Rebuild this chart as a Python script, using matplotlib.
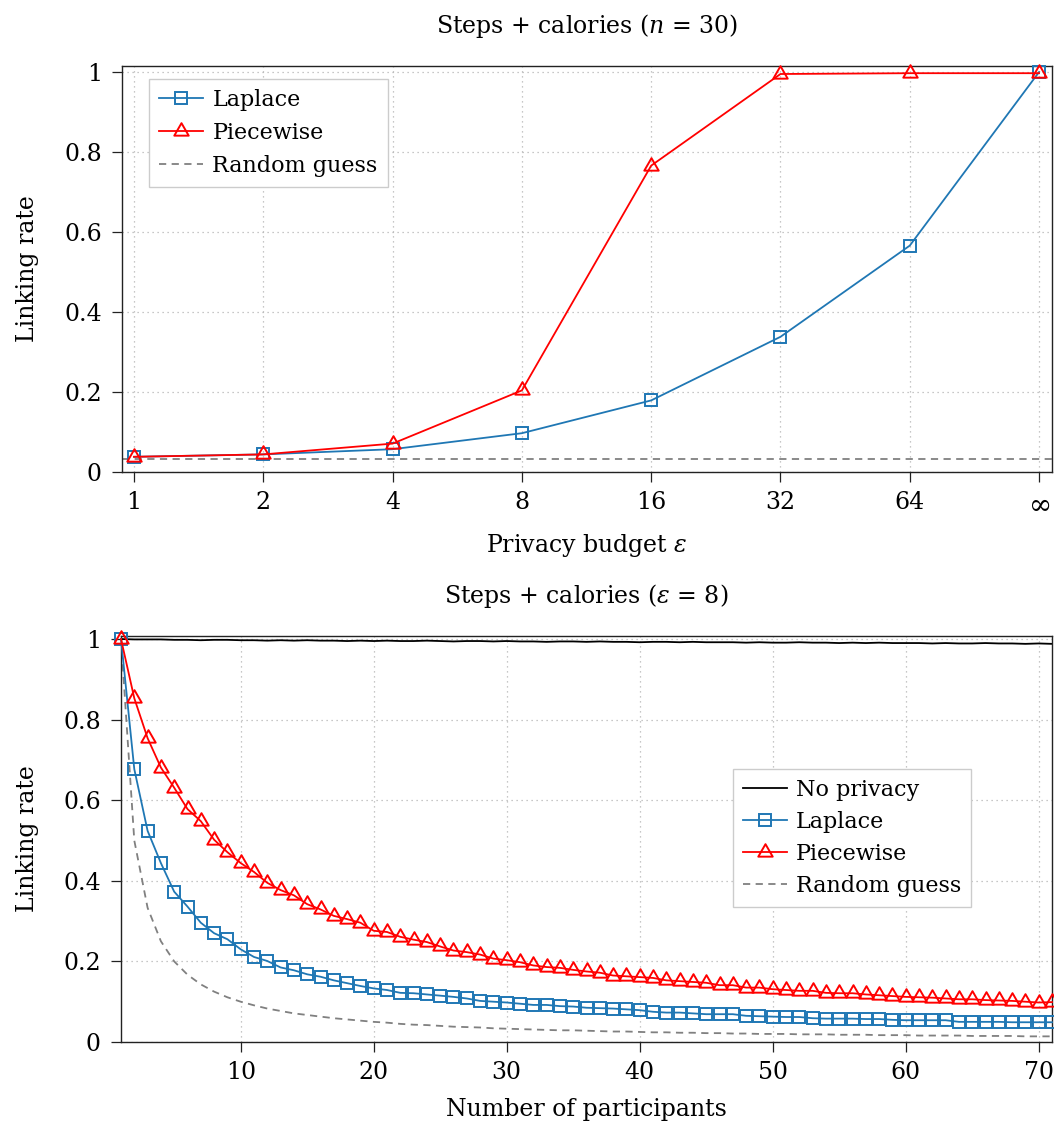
import matplotlib
matplotlib.use('Agg')
import matplotlib.pyplot as plt
from matplotlib.path import Path

plt.rcParams['font.family'] = ['DejaVu Serif']
plt.rcParams['mathtext.fontset'] = 'dejavuserif'

# ---------------- data ----------------
eps_labels = ['1', '2', '4', '8', '16', '32', '64', r'$\infty$']
laplace_eps = [0.038, 0.044, 0.057, 0.097, 0.179, 0.338, 0.566, 1.0]
piecewise_eps = [0.038, 0.044, 0.071, 0.204, 0.766, 0.995, 0.997, 0.997]
random_guess_n30 = 0.0333

participants = list(range(1, 72))
no_privacy_n = [1.0, .999, .999, .999, .998, .998, .997, .998, .998, .997,
                .997, .996, .997, .996, .997, .996, .996, .995, .996, .995,
                .996, .995, .995, .996, .995, .994, .995, .995, .994, .995,
                .994, .994, .993, .994, .994, .993, .994, .993, .993, .992,
                .993, .993, .992, .993, .992, .992, .992, .991, .992, .991,
                .991, .992, .991, .991, .990, .991, .990, .991, .990, .990,
                .990, .989, .990, .989, .989, .990, .989, .989, .988, .989, .988]
laplace_n = [1.0, 0.677, 0.524, 0.444, 0.373, 0.336, 0.296, 0.270, 0.255, 0.230,
             0.211, 0.201, 0.185, 0.178, 0.168, 0.162, 0.153, 0.146, 0.139, 0.133,
             0.129, 0.122, 0.121, 0.118, 0.115, 0.112, 0.108, 0.102, 0.100, 0.098,
             0.095, 0.092, 0.092, 0.089, 0.088, 0.085, 0.084, 0.083, 0.081, 0.079,
             0.075, 0.073, 0.073, 0.071, 0.069, 0.069, 0.069, 0.065, 0.064, 0.063,
             0.062, 0.062, 0.059, 0.058, 0.058, 0.058, 0.057, 0.057, 0.055, 0.054,
             0.054, 0.054, 0.054, 0.050, 0.050, 0.050, 0.050, 0.049, 0.049, 0.049, 0.049]
piecewise_n = [1.0, 0.853, 0.754, 0.681, 0.631, 0.578, 0.548, 0.502, 0.471, 0.444,
               0.422, 0.395, 0.377, 0.364, 0.342, 0.329, 0.313, 0.305, 0.296, 0.276,
               0.273, 0.261, 0.254, 0.248, 0.237, 0.227, 0.223, 0.217, 0.207, 0.203,
               0.198, 0.190, 0.186, 0.184, 0.179, 0.175, 0.172, 0.165, 0.163, 0.161,
               0.159, 0.153, 0.151, 0.149, 0.147, 0.141, 0.141, 0.135, 0.135, 0.131,
               0.129, 0.127, 0.127, 0.122, 0.121, 0.121, 0.118, 0.116, 0.114, 0.112,
               0.111, 0.110, 0.108, 0.106, 0.106, 0.104, 0.103, 0.102, 0.100, 0.098, 0.099]
random_guess_n = [1.0, 0.5, 0.333, 0.25, 0.2, 0.167, 0.143, 0.125, 0.111, 0.1,
                  0.091, 0.083, 0.077, 0.071, 0.067, 0.063, 0.059, 0.056, 0.053, 0.05,
                  0.048, 0.045, 0.043, 0.042, 0.04, 0.038, 0.037, 0.036, 0.034, 0.033,
                  0.032, 0.031, 0.030, 0.029, 0.029, 0.028, 0.027, 0.026, 0.026, 0.025,
                  0.024, 0.024, 0.023, 0.023, 0.022, 0.022, 0.021, 0.021, 0.020, 0.020,
                  0.020, 0.019, 0.019, 0.019, 0.018, 0.018, 0.018, 0.017, 0.017, 0.017,
                  0.016, 0.016, 0.016, 0.016, 0.015, 0.015, 0.015, 0.015, 0.014, 0.014, 0.014]
y_ticks = [0, 0.2, 0.4, 0.6, 0.8, 1.0]
y_ticklabels = ['0', '0.2', '0.4', '0.6', '0.8', '1']
n_ticks = [10, 20, 30, 40, 50, 60, 70]

# ---------------- style ----------------
BLUE = '#1f77b4'
RED = '#ff0000'
GRAY = '#808080'
FS = 17
LFS = 16
tri = Path([(0, 1), (-0.866, -0.5), (0.866, -0.5), (0, 1)],
           [Path.MOVETO, Path.LINETO, Path.LINETO, Path.CLOSEPOLY])

fig = plt.figure(figsize=(10.54, 11.28), dpi=100)
ax1 = fig.add_axes([122 / 1054, 1 - 472 / 1128, 930 / 1054, 406 / 1128])
ax2 = fig.add_axes([121 / 1054, 1 - 1042 / 1128, 931 / 1054, 406 / 1128])


def style(ax):
    for s in ax.spines.values():
        s.set_linewidth(1.0)
        s.set_color('#222222')
    ax.tick_params(axis='both', direction='out', length=7.5, width=0.9,
                   color='#222222', labelsize=FS)
    ax.tick_params(axis='x', pad=6.5)
    ax.tick_params(axis='y', pad=7)
    ax.grid(True, linestyle=(0, (1, 3)), color='#b5b5b5', linewidth=0.9)
    ax.set_axisbelow(True)
    ax.set_yticks(y_ticks)
    ax.set_yticklabels(y_ticklabels)


def legend(ax, anchor, spacing):
    leg = ax.legend(loc='upper left', bbox_to_anchor=anchor, borderaxespad=0,
                    fontsize=LFS, frameon=True, fancybox=False, framealpha=1,
                    edgecolor='#cccccc', handlelength=2.0, handletextpad=0.4,
                    labelspacing=spacing, borderpad=0.45, numpoints=1)
    leg.get_frame().set_linewidth(1.0)
    return leg


# ---------------- top ----------------
style(ax1)
xi = list(range(len(eps_labels)))
ax1.plot(xi, laplace_eps, color=BLUE, lw=1.3, marker='s', ms=8, mfc='none',
         mew=1.4, label='Laplace', clip_on=False, zorder=3)
ax1.plot(xi, piecewise_eps, color=RED, lw=1.3, marker=tri, ms=12, mfc='none',
         mew=1.4, label='Piecewise', clip_on=False, zorder=4)
ax1.axhline(random_guess_n30, color=GRAY, lw=1.3, ls=(0, (4, 3)),
            label='Random guess', zorder=2)
ax1.set_xticks(xi)
ax1.set_xticklabels(eps_labels)
ax1.get_xticklabels()[-1].set_fontsize(20)
ax1.set_xlim(-0.093, 7.1)
ax1.set_ylim(0, 1.015)
ax1.set_xlabel(r'Privacy budget $\varepsilon$', fontsize=FS, labelpad=10)
ax1.set_ylabel('Linking rate', fontsize=FS)
ax1.yaxis.set_label_coords(-0.089, 0.5)
ax1.set_title(r'Steps + calories ($n$ = 30)', fontsize=FS, pad=24)
legend(ax1, (0.029, 0.968), 0.5)

# ---------------- bottom ----------------
style(ax2)
ax2.plot(participants, no_privacy_n, color='black', lw=1.3, label='No privacy',
         zorder=2, clip_on=False)
ax2.plot(participants, laplace_n, color=BLUE, lw=1.3, marker='s', ms=8, mfc='none',
         mew=1.4, label='Laplace', clip_on=False, zorder=3)
ax2.plot(participants, piecewise_n, color=RED, lw=1.3, marker=tri, ms=12, mfc='none',
         mew=1.4, label='Piecewise', clip_on=False, zorder=4)
ax2.plot(participants, random_guess_n, color=GRAY, lw=1.3, ls=(0, (4, 3)),
         label='Random guess', zorder=2)
ax2.set_xticks(n_ticks)
ax2.set_xlim(1, 71)
ax2.set_ylim(0, 1.0075)
ax2.set_xlabel('Number of participants', fontsize=FS, labelpad=10)
ax2.set_ylabel('Linking rate', fontsize=FS)
ax2.yaxis.set_label_coords(-0.088, 0.5)
ax2.set_title(r'Steps + calories ($\varepsilon$ = 8)', fontsize=FS, pad=23.5)
legend(ax2, (0.657, 0.672), 0.45)

fig.savefig('out.png', dpi=100)
